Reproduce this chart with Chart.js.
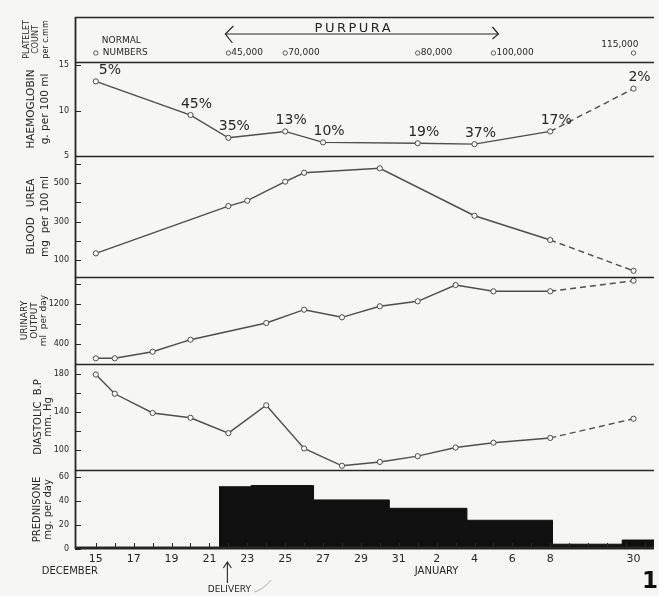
<!DOCTYPE html>
<html><head><meta charset="utf-8">
<script src="https://cdn.jsdelivr.net/npm/chart.js@4.4.1/dist/chart.umd.min.js"></script>
<style>html,body{margin:0;padding:0;background:#f6f6f4;}#wrap{width:659px;height:596px;}</style>
</head><body><div id="wrap"><canvas id="c" width="659" height="596"></canvas></div>
<script>
// Days counted from 15 December (1 Jan = 17, 8 Jan = 24, 30 Jan = 46)
const xTickDays   = [0,2,4,6,8,10,12,14,16,18,20,22,24,46];
const xTickLabels = ['15','17','19','21','23','25','27','29','31','2','4','6','8','30'];

const plateletDays   = [0,7,10,17,21,46];
const plateletCounts = ['NORMAL NUMBERS','45,000','70,000','80,000','100,000','115,000'];

const hbDays   = [0,5,7,10,12,17,20,24,46];
const hbValues = [13.2,9.5,7.0,7.7,6.5,6.4,6.3,7.7,12.4];
const reticLabels = ['5%','45%','35%','13%','10%','19%','37%','17%','2%'];

const ureaDays   = [0,7,8,10,11,15,20,24,46];
const ureaValues = [135,380,408,507,553,576,330,204,44];

const urineDays   = [0,1,3,5,9,11,13,15,17,19,21,24,46];
const urineValues = [114,114,246,486,820,1086,934,1154,1254,1580,1454,1454,1666];

const bpDays   = [0,1,3,5,7,9,11,13,15,17,19,21,24,46];
const bpValues = [179,159,139,134,118,147,102,84,88,94,103,108,113,133];

const predStartDays = [6.5,8.2,11.5,15.5,19.6,24.6,43,52];
const predDoses     = [52,53,41,34,24,4,7.5,7.5];

const hbTicks = [5,10,15],            hbLabeled = [5,10,15];
const ureaTicks = [100,200,300,400,500,600], ureaLabeled = [100,300,500];
const urineTicks = [400,800,1200,1600], urineLabeled = [400,1200];
const bpTicks = [80,100,120,140,160,180], bpLabeled = [100,140,180];
const predTicks = [0,20,40,60], predLabeled = [0,20,40,60];
const deliveryDay = 7;

// broken time axis: after 8 Jan the scale is compressed
const BREAK_DAY = 24, BREAK_SCALE = 0.2;
const pos = d => d <= BREAK_DAY ? d : BREAK_DAY + (d - BREAK_DAY) * BREAK_SCALE;

const BG = '#f6f6f4', INK = '#262626', LINE = '#4e4e4e';
const FONT = '"DejaVu Sans", "Liberation Sans", sans-serif';

const pts = (days, vals) => days.map((d, i) => ({x: pos(d), y: vals[i]}));
const dashLast = n => ({ borderDash: ctx => ctx.p1DataIndex === n - 1 ? [6, 4] : undefined });
const lineDs = (days, vals, axis) => ({
  data: pts(days, vals), yAxisID: axis, borderColor: LINE, borderWidth: 1.4,
  pointRadius: 2.6, pointBorderWidth: 1, pointBorderColor: LINE, pointBackgroundColor: BG,
  tension: 0, fill: false, segment: dashLast(days.length)
});

function yScale(id, weight, stackWeight, min, max, ticks, labeled, title, tfont, tlh, tpad) {
  return {
    type: 'linear', position: 'left', stack: 'panels', stackWeight, weight, min, max,
    grid: {display: false, drawTicks: false, tickLength: 0}, border: {display: false},
    afterBuildTicks: s => { s.ticks = ticks.map(v => ({value: v})); },
    afterFit: s => { s.width = 75; },
    ticks: { display: ticks.length > 0, autoSkip: false, padding: 6, color: INK,
      font: {family: FONT, size: 8}, callback: v => labeled.includes(v) ? String(v) : '' },
    title: { display: true, text: title, color: INK,
      font: {family: FONT, size: tfont, lineHeight: tlh}, padding: {top: tpad, bottom: 0} }
  };
}

const decor = {
  id: 'decor',
  beforeDraw(chart) {
    const c = chart.ctx; c.save(); c.fillStyle = BG; c.fillRect(0, 0, chart.width, chart.height); c.restore();
  },
  afterDatasetsDraw(chart) {
    const c = chart.ctx, a = chart.chartArea, s = chart.scales, x = s.x;
    c.save();
    c.strokeStyle = INK;
    // panel borders
    c.lineWidth = 1.6;
    ['yPlt','yHb','yUrea','yUrine','yBP','yPred'].forEach(id => {
      const y = Math.round(s[id].top) + 0.5;
      c.beginPath(); c.moveTo(a.left, y); c.lineTo(a.right, y); c.stroke();
    });
    c.lineWidth = 3;
    c.beginPath(); c.moveTo(a.left, a.bottom - 1); c.lineTo(a.right, a.bottom - 1); c.stroke();
    c.lineWidth = 1.8;
    c.beginPath(); c.moveTo(a.left + 0.5, a.top); c.lineTo(a.left + 0.5, a.bottom); c.stroke();
    // inward y tick marks
    c.lineWidth = 1;
    ['yHb','yUrea','yUrine','yBP','yPred'].forEach(id => {
      const sc = s[id];
      sc.ticks.forEach(t => {
        const y = Math.round(sc.getPixelForValue(t.value)) + 0.5;
        c.beginPath(); c.moveTo(a.left, y); c.lineTo(a.left + 6, y); c.stroke();
      });
    });
    // day tick marks on time axis
    for (let p = 0; p <= Math.floor(x.max); p++) {
      const px = Math.round(x.getPixelForValue(p)) + 0.5;
      c.beginPath(); c.moveTo(px, a.bottom - 1); c.lineTo(px, a.bottom - 6); c.stroke();
    }
    c.fillStyle = INK;
    // platelet counts
    const pm = chart.getDatasetMeta(0);
    c.font = '9px ' + FONT; c.textBaseline = 'middle';
    pm.data.forEach((pt, i) => {
      if (i === 0) {
        c.textAlign = 'left';
        c.fillText('NORMAL', pt.x + 6, pt.y - 12);
        c.fillText('NUMBERS', pt.x + 7, pt.y);
      } else if (i === pm.data.length - 1) {
        c.textAlign = 'right'; c.fillText(plateletCounts[i], pt.x + 5, pt.y - 8);
      } else {
        c.textAlign = 'left'; c.fillText(plateletCounts[i], pt.x + 3, pt.y);
      }
    });
    // PURPURA arrow between 45,000 and 100,000
    const x1 = pm.data[1].x - 3, x2 = pm.data[4].x + 5, ay = s.yPlt.top + 17;
    c.lineWidth = 1.2;
    c.beginPath(); c.moveTo(x1, ay); c.lineTo(x2, ay); c.stroke();
    c.beginPath(); c.moveTo(x1 + 8, ay - 8); c.lineTo(x1, ay); c.lineTo(x1 + 7, ay + 9); c.stroke();
    c.beginPath(); c.moveTo(x2 - 6, ay - 7); c.lineTo(x2, ay); c.lineTo(x2 - 6, ay + 5); c.stroke();
    c.font = '13px ' + FONT; c.textAlign = 'center'; c.textBaseline = 'alphabetic';
    try { c.letterSpacing = '2.5px'; } catch (e) {}
    c.fillText('PURPURA', (x1 + x2) / 2 - 8, ay - 2);
    try { c.letterSpacing = '0px'; } catch (e) {}
    // reticulocyte labels
    const hm = chart.getDatasetMeta(1);
    c.font = '14px ' + FONT; c.textAlign = 'center'; c.textBaseline = 'middle';
    hm.data.forEach((pt, i) => {
      const dx = i === 0 ? 14 : 6;
      c.fillText(reticLabels[i], pt.x + dx, pt.y - 11);
    });
    // bottom annotations
    const bx0 = x.getPixelForValue(pos(0));
    c.font = '10px ' + FONT; c.textBaseline = 'middle';
    c.textAlign = 'left'; c.fillText('DECEMBER', bx0 - 54, 571);
    c.textAlign = 'center'; c.fillText('JANUARY', x.getPixelForValue(pos(18)), 571);
    const dxp = x.getPixelForValue(pos(deliveryDay)) - 1;
    c.lineWidth = 1.1;
    c.beginPath(); c.moveTo(dxp, 583); c.lineTo(dxp, 562); c.stroke();
    c.beginPath(); c.moveTo(dxp - 4, 568); c.lineTo(dxp, 562); c.lineTo(dxp + 4, 568); c.stroke();
    c.font = '9px ' + FONT; c.fillText('DELIVERY', dxp + 2, 590);
    c.strokeStyle = '#999'; c.lineWidth = 0.8;
    c.beginPath(); c.moveTo(dxp + 27, 592); c.quadraticCurveTo(dxp + 35, 590, dxp + 44, 580); c.stroke();
    c.font = 'bold 23px ' + FONT; c.textAlign = 'right'; c.fillStyle = '#111';
    c.fillText('1', 658, 582);
    c.restore();
  }
};

const predData = predStartDays.map((d, i) => ({x: pos(d), y: predDoses[i]}));

new Chart(document.getElementById('c'), {
  type: 'line',
  data: { datasets: [
    { data: plateletDays.map(d => ({x: pos(d), y: 0.2})), yAxisID: 'yPlt', showLine: false,
      pointRadius: 2.2, pointBorderWidth: 0.9, pointBorderColor: LINE, pointBackgroundColor: BG },
    lineDs(hbDays, hbValues, 'yHb'),
    lineDs(ureaDays, ureaValues, 'yUrea'),
    lineDs(urineDays, urineValues, 'yUrine'),
    lineDs(bpDays, bpValues, 'yBP'),
    { data: predData, yAxisID: 'yPred', stepped: true, fill: 'origin', backgroundColor: '#111',
      borderColor: '#111', borderWidth: 1, pointRadius: 0 }
  ]},
  options: {
    responsive: false, animation: false, devicePixelRatio: 1,
    layout: { padding: {top: 17, left: 0, right: 0, bottom: 0} },
    plugins: { legend: {display: false}, tooltip: {enabled: false} },
    scales: {
      x: { type: 'linear', min: -1.1, max: 29.48, grid: {display: false, drawTicks: false, tickLength: 0}, border: {display: false},
        afterBuildTicks: s => { s.ticks = xTickDays.map(d => ({value: pos(d)})); },
        afterFit: s => { s.height = 47; },
        ticks: { autoSkip: false, maxRotation: 0, padding: 4, color: INK, font: {family: FONT, size: 11},
          callback: (v, i) => xTickLabels[i] } },
      yPred:  yScale('yPred', 1, 79, 0, 66, predTicks, predLabeled, ['PREDNISONE','mg. per day'], 10, 1.1, 32),
      yBP:    yScale('yBP', 2, 106, 79.6, 190, bpTicks, bpLabeled, ['DIASTOLIC  B.P','mm. Hg'], 10, 1.05, 33),
      yUrine: yScale('yUrine', 3, 87, 0, 1740, urineTicks, urineLabeled, ['URINARY','OUTPUT','ml  per day'], 9, 1.05, 20),
      yUrea:  yScale('yUrea', 4, 121, 12, 640, ureaTicks, ureaLabeled, ['BLOOD   UREA','mg  per 100 ml'], 10.5, 1.35, 24),
      yHb:    yScale('yHb', 5, 94, 5, 15.33, hbTicks, hbLabeled, ['HAEMOGLOBIN','g. per 100 ml'], 10.5, 1.35, 24),
      yPlt:   yScale('yPlt', 6, 45, 0, 1, [], [], ['PLATELET','COUNT','per c.mm'], 8, 1.2, 22)
    }
  },
  plugins: [decor]
});
</script></body></html>
